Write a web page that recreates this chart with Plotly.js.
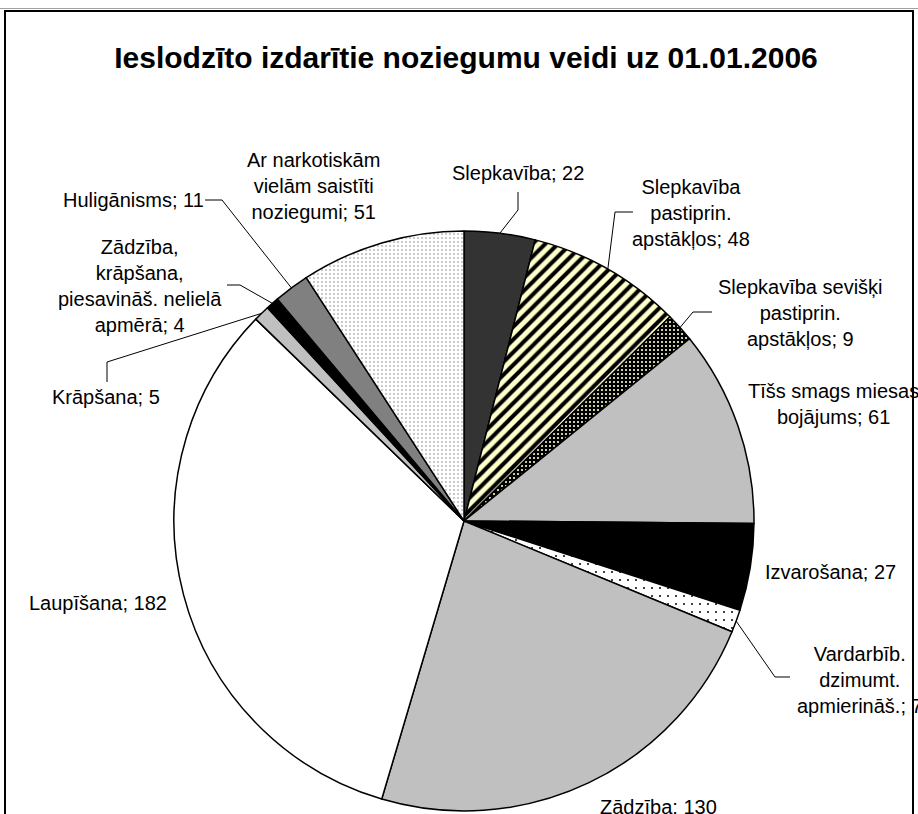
<!DOCTYPE html>
<html><head><meta charset="utf-8">
<script src="https://cdn.plot.ly/plotly-3.0.1.min.js"></script>
<style>html,body{margin:0;padding:0;background:#fff}</style>
</head><body><div id="chart" style="width:918px;height:814px"></div>
<script>
// ---- data ----
const categories = [
  "Slepkavība",
  "Slepkavība pastiprin. apstākļos",
  "Slepkavība sevišķi pastiprin. apstākļos",
  "Tīšs smags miesas bojājums",
  "Izvarošana",
  "Vardarbīb. dzimumt. apmierināš.",
  "Zādzība",
  "Laupīšana",
  "Krāpšana",
  "Zādzība, krāpšana, piesavināš. nelielā apmērā",
  "Huligānisms",
  "Ar narkotiskām vielām saistīti noziegumi"
];
const values = [22, 48, 9, 61, 27, 7, 130, 182, 5, 4, 11, 51];
// how each category name is wrapped in its label
const labelLines = [
  ["Slepkavība"],
  ["Slepkavība", "pastiprin.", "apstākļos"],
  ["Slepkavība sevišķi", "pastiprin.", "apstākļos"],
  ["Tīšs smags miesas", "bojājums"],
  ["Izvarošana"],
  ["Vardarbīb.", "dzimumt.", "apmierināš."],
  ["Zādzība"],
  ["Laupīšana"],
  ["Krāpšana"],
  ["Zādzība,", "krāpšana,", "piesavināš. nelielā", "apmērā"],
  ["Huligānisms"],
  ["Ar narkotiskām", "vielām saistīti", "noziegumi"]
];
const titleText = "Ieslodzīto izdarītie noziegumu veidi uz 01.01.2006";

// ---- styles ----
const fillColors = ["#333333", "#FFFFCC", "#000000", "#C0C0C0", "#000000", "#FFFFFF",
                    "#C0C0C0", "#FFFFFF", "#C0C0C0", "#000000", "#808080", "#FFFFFF"];
const patShape = ["", "/", ".", "", "", ".", "", "", "", "", "", "."];
const patFg    = ["#000", "#000000", "#FFFFCC", "#000", "#000", "#000000", "#000", "#000", "#000", "#000", "#000", "#808080"];
const patBg    = ["#333333", "#FFFFCC", "#000000", "#C0C0C0", "#000000", "#FFFFFF",
                  "#C0C0C0", "#FFFFFF", "#C0C0C0", "#000000", "#808080", "#FFFFFF"];
const patSize  = [8, 9, 4, 8, 8, 8, 8, 8, 8, 8, 8, 4];
const patSolid = [0.3, 0.45, 0.22, 0.3, 0.3, 0.05, 0.3, 0.3, 0.3, 0.3, 0.3, 0.12];

// ---- layout geometry (pixels) ----
const W = 918, H = 814;
const CX = 464, CY = 521, R = 290;
// label centre and leader-line bend points (pixels), null = no leader
const labelPos = [
  {x: 518, y: 173, bend: [[518, 210], [518, 192]]},
  {x: 691, y: 213, bend: [[615, 212], [633, 212]]},
  {x: 800, y: 313, bend: [[693, 312], [712, 312]]},
  {x: 833, y: 404, bend: null},
  {x: 830, y: 572, bend: null},
  {x: 860, y: 680, bend: [[775, 677], [790, 677]]},
  {x: 658, y: 807, bend: null},
  {x: 98,  y: 603, bend: null},
  {x: 106, y: 397, bend: [[107, 362], [107, 382]]},
  {x: 140, y: 286, bend: [[240, 285], [227, 285]]},
  {x: 133, y: 200, bend: [[222, 200], [205, 200]]},
  {x: 313, y: 186, bend: null}
];

const px = x => x / W;
const py = y => 1 - y / H;

const total = values.reduce((a, b) => a + b, 0);
let cum = 0;
const annotations = [];
const shapes = [];

values.forEach((v, i) => {
  const mid = (cum + v / 2) / total * 2 * Math.PI;
  cum += v;
  const ex = CX + R * Math.sin(mid);
  const ey = CY - R * Math.cos(mid);
  const lines = labelLines[i].slice();
  lines[lines.length - 1] = lines[lines.length - 1] + "; " + v;
  const lp = labelPos[i];
  annotations.push({
    text: lines.join("<br>"),
    x: px(lp.x), y: py(lp.y), xref: "paper", yref: "paper",
    xanchor: "center", yanchor: "middle", align: "center",
    showarrow: false,
    font: {family: "Arial, 'Liberation Sans', sans-serif", size: 20, color: "#000"}
  });
  if (lp.bend) {
    let d = "M" + px(ex) + "," + py(ey);
    lp.bend.forEach(p => { d += " L" + px(p[0]) + "," + py(p[1]); });
    shapes.push({type: "path", xref: "paper", yref: "paper", path: d,
                 line: {color: "#000", width: 1}});
  }
});

// frame and top page rule
shapes.push({type: "rect", xref: "paper", yref: "paper",
             x0: px(5), x1: px(913), y0: py(11), y1: py(840),
             line: {color: "#000", width: 2}, layer: "below"});
shapes.push({type: "line", xref: "paper", yref: "paper",
             x0: 0, x1: 1, y0: py(8.5), y1: py(8.5),
             line: {color: "#A0A0A0", width: 1}, layer: "below"});

const trace = {
  type: "pie",
  labels: categories,
  values: values,
  sort: false,
  direction: "clockwise",
  rotation: 0,
  textinfo: "none",
  hoverinfo: "label+value",
  showlegend: false,
  domain: {x: [px(CX - R), px(CX + R)], y: [py(CY + R), py(CY - R)]},
  marker: {
    colors: fillColors,
    line: {color: "#000", width: 1.5},
    pattern: {shape: patShape, fgcolor: patFg, bgcolor: patBg,
              size: patSize, solidity: patSolid, fillmode: "replace"}
  }
};

const layout = {
  width: W, height: H,
  margin: {l: 0, r: 0, t: 0, b: 0},
  paper_bgcolor: "#fff", plot_bgcolor: "#fff",
  title: {
    text: titleText,
    x: px(466), xref: "paper", xanchor: "center",
    y: py(57), yref: "paper", yanchor: "middle",
    font: {family: "Arial, 'Liberation Sans', sans-serif", size: 30, color: "#000", weight: 700}
  },
  annotations: annotations,
  shapes: shapes
};

Plotly.newPlot("chart", [trace], layout, {displayModeBar: false, staticPlot: true});
</script>
</body></html>
